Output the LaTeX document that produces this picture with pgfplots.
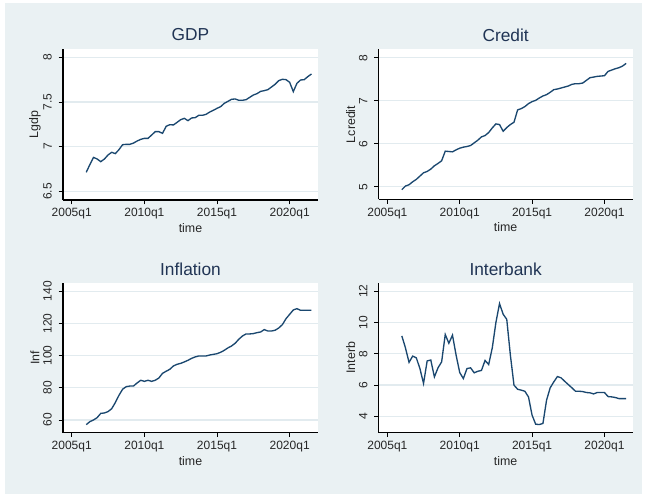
\documentclass[border=0pt]{standalone}
\usepackage{pgfplots}
\usepackage{pgfplotstable}
\pgfplotsset{compat=1.18}
\usepackage{fontspec}
\setmainfont{Liberation Sans}

\definecolor{graphbg}{RGB}{234,241,243}
\definecolor{gridc}{RGB}{226,235,239}
\definecolor{linec}{RGB}{26,71,111}
\definecolor{titlec}{RGB}{32,52,84}

% quarterly series, 2006q1 -- 2021q3 (t = year + (quarter-1)/4)
\pgfplotstableread{
t       gdp    credit  inf    interb
2006.00 6.713  4.930   57.1   9.14
2006.25 6.800  5.015   58.96  8.38
2006.50 6.880  5.046   60.0   7.45
2006.75 6.862  5.115   61.45  7.85
2007.00 6.832  5.170   64.1   7.74
2007.25 6.862  5.247   64.35  7.05
2007.50 6.907  5.324   65.2   6.10
2007.75 6.937  5.355   67.0   7.54
2008.00 6.922  5.409   70.8   7.60
2008.25 6.966  5.487   75.3   6.52
2008.50 7.022  5.541   79.1   7.10
2008.75 7.026  5.603   80.7   7.48
2009.00 7.026  5.827   81.1   9.23
2009.25 7.040  5.819   81.1   8.67
2009.50 7.063  5.811   83.0   9.19
2009.75 7.082  5.858   84.7   7.91
2010.00 7.093  5.896   84.0   6.80
2010.25 7.093  5.920   84.7   6.41
2010.50 7.130  5.935   84.0   7.05
2010.75 7.168  5.958   84.7   7.10
2011.00 7.168  6.020   86.1   6.78
2011.25 7.149  6.082   89.0   6.88
2011.50 7.228  6.159   90.3   6.93
2011.75 7.246  6.190   91.5   7.57
2012.00 7.243  6.260   93.6   7.31
2012.25 7.272  6.368   94.6   8.38
2012.50 7.302  6.461   95.2   10.00
2012.75 7.317  6.446   96.1   11.21
2013.00 7.291  6.291   97.1   10.53
2013.25 7.321  6.376   98.3   10.20
2013.50 7.325  6.446   99.2   7.91
2013.75 7.351  6.500   99.8   5.99
2014.00 7.351  6.786   99.8   5.73
2014.25 7.362  6.817   99.8   5.67
2014.50 7.388  6.863   100.4  5.60
2014.75 7.407  6.933   100.8  5.24
2015.00 7.429  6.979   101.2  4.07
2015.25 7.448  7.010   102.1  3.49
2015.50 7.485  7.064   103.3  3.47
2015.75 7.507  7.111   104.8  3.54
2016.00 7.530  7.142   106.0  5.03
2016.25 7.534  7.196   107.7  5.82
2016.50 7.519  7.258   110.2  6.20
2016.75 7.519  7.273   112.2  6.54
2017.00 7.526  7.296   113.5  6.46
2017.25 7.552  7.319   113.5  6.24
2017.50 7.578  7.343   113.7  6.03
2017.75 7.593  7.381   114.3  5.82
2018.00 7.619  7.397   114.7  5.60
2018.25 7.627  7.397   116.2  5.60
2018.50 7.638  7.412   115.3  5.58
2018.75 7.668  7.474   115.3  5.52
2019.00 7.698  7.536   115.8  5.50
2019.25 7.739  7.551   117.2  5.43
2019.50 7.754  7.567   119.3  5.52
2019.75 7.750  7.575   123.0  5.52
2020.00 7.720  7.582   125.7  5.52
2020.25 7.616  7.683   128.4  5.26
2020.50 7.709  7.714   129.2  5.24
2020.75 7.746  7.745   128.2  5.20
2021.00 7.750  7.768   128.2  5.13
2021.25 7.784  7.807   128.2  5.13
2021.50 7.813  7.869   128.2  5.13
}\series

\pgfplotsset{
  panel/.style={
    scale only axis,
    xmin=2004.4, xmax=2021.95,
    axis lines*=left,
    axis line style={-, black, line width=0.8pt},
    tick align=outside,
    major tick length=3.2pt,
    tick style={black, line width=0.7pt},
    xtick={2005,2010,2015,2020},
    xticklabels={2005q1,2010q1,2015q1,2020q1},
    minor tick num=0,
    ymajorgrids,
    grid style={gridc, line width=1.0pt},
    axis background/.style={fill=white},
    /pgf/number format/assume math mode=true,
    ticklabel style={font=\fontsize{9}{10}\selectfont, text=black!85, inner sep=0pt},
    yticklabel style={rotate=90, anchor=south},
    yticklabel shift=5pt,
    xticklabel style={anchor=north},
    xticklabel shift=3pt,
    every axis title shift=0pt,
    title style={font=\fontsize{13}{15}\selectfont, text=titlec,
      at={([yshift=10.5pt]axis description cs:0.5,1)}, anchor=center},
    xlabel={time},
    label style={font=\fontsize{9.3}{11}\selectfont, text=black!85, inner sep=0pt},
    xlabel style={at={([yshift=-21pt]axis description cs:0.5,0)}, anchor=center},
    ylabel style={at={([xshift=-21pt]axis description cs:0,0.5)}, anchor=center},
    every axis plot post/.append style={draw=linec, line width=1.0pt, mark=none},
  },
}

\begin{document}
\begin{tikzpicture}[x=0.75pt,y=0.75pt]
  % page and graph region
  \fill[white] (0,0) rectangle (652,494);
  \fill[graphbg] (5,0) rectangle (642,491);

  % GDP
  \begin{axis}[panel, at={(47.25pt,220.5pt)}, anchor=south west,
      width=191.25pt, height=113.25pt,
      ymin=6.403, ymax=8.093, ytick={6.5,7,7.5,8},
      title={GDP}, ylabel={Lgdp}]
    \addplot table[x=t, y=gdp] {\series};
  \end{axis}

  % Credit
  \begin{axis}[panel, at={(284.0pt,220.9pt)}, anchor=south west,
      width=190.5pt, height=112.5pt,
      ymin=4.703, ymax=8.193, ytick={5,6,7,8},
      title={Credit}, ylabel={Lcredit}]
    \addplot table[x=t, y=credit] {\series};
  \end{axis}

  % Inflation
  \begin{axis}[panel, at={(47.25pt,46.0pt)}, anchor=south west,
      width=191.25pt, height=112.3pt,
      ymin=52.1, ymax=145.2, ytick={60,80,100,120,140},
      title={Inflation}, ylabel={Inf}]
    \addplot table[x=t, y=inf] {\series};
  \end{axis}

  % Interbank
  \begin{axis}[panel, at={(284.0pt,46.0pt)}, anchor=south west,
      width=190.5pt, height=112.3pt,
      ymin=2.95, ymax=12.53, ytick={4,6,8,10,12},
      title={Interbank}, ylabel={Interb}]
    \addplot table[x=t, y=interb] {\series};
  \end{axis}
\end{tikzpicture}
\end{document}
